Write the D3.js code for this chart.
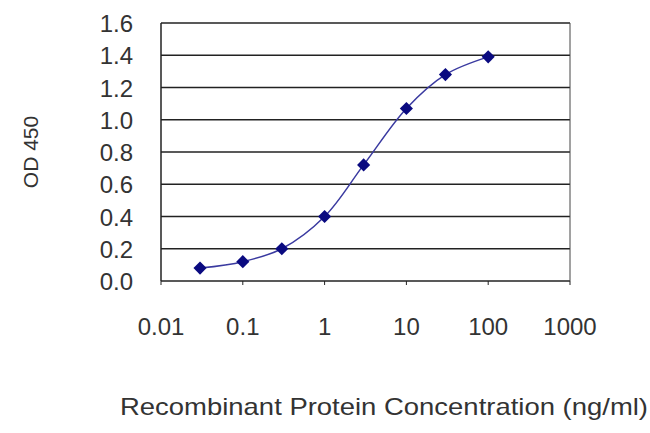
<!DOCTYPE html>
<html>
<head>
<meta charset="utf-8">
<script src="https://cdn.jsdelivr.net/npm/d3@7"></script>
<style>
  body { margin: 0; background: #fff; }
  text { font-family: "Liberation Sans", Arial, sans-serif; fill: #333; }
</style>
</head>
<body>
<div id="chart"></div>
<script>
const concentrations = [0.03, 0.1, 0.3, 1, 3, 10, 30, 100];
const odValues = [0.08, 0.12, 0.2, 0.4, 0.72, 1.07, 1.28, 1.39];
const xTicks = [0.01, 0.1, 1, 10, 100, 1000];
const xTickLabels = ['0.01', '0.1', '1', '10', '100', '1000'];
const yTicks = [0, 0.2, 0.4, 0.6, 0.8, 1.0, 1.2, 1.4, 1.6];

const WIDTH = 650;
const HEIGHT = 433;
const margin = { left: 161, right: 80, top: 23, bottom: 152 };

const svg = d3.select('#chart').append('svg')
  .attr('width', WIDTH).attr('height', HEIGHT);

const x = d3.scaleLog().domain([0.01, 1000]).range([margin.left, WIDTH - margin.right]);
const y = d3.scaleLinear().domain([0, 1.6]).range([HEIGHT - margin.bottom, margin.top]);

// grid lines
svg.append('g')
  .selectAll('line')
  .data(yTicks)
  .enter()
  .append('line')
  .attr('x1', x(0.01)).attr('x2', x(1000))
  .attr('y1', (d) => y(d)).attr('y2', (d) => y(d))
  .attr('stroke', '#222').attr('stroke-width', 1.5);

// frame
svg.append('line')
  .attr('x1', x(0.01)).attr('x2', x(0.01))
  .attr('y1', y(0)).attr('y2', y(1.6))
  .attr('stroke', '#222').attr('stroke-width', 1.5);
svg.append('line')
  .attr('x1', x(1000)).attr('x2', x(1000))
  .attr('y1', y(0)).attr('y2', y(1.6))
  .attr('stroke', '#444').attr('stroke-width', 1);

// x ticks
svg.append('g')
  .selectAll('line')
  .data(xTicks)
  .enter()
  .append('line')
  .attr('x1', (d) => x(d)).attr('x2', (d) => x(d))
  .attr('y1', y(0)).attr('y2', y(0) + 4)
  .attr('stroke', '#222');

svg.append('g')
  .selectAll('text')
  .data(xTicks)
  .enter()
  .append('text')
  .attr('x', (d) => x(d))
  .attr('y', y(0) + 54)
  .attr('text-anchor', 'middle')
  .attr('font-size', 24)
  .text((d, i) => xTickLabels[i]);

svg.append('g')
  .selectAll('text')
  .data(yTicks)
  .enter()
  .append('text')
  .attr('x', x(0.01) - 28)
  .attr('y', (d) => y(d) + 9)
  .attr('text-anchor', 'end')
  .attr('font-size', 24)
  .text((d) => d.toFixed(1));

svg.append('text')
  .attr('transform', 'translate(38,' + (y(0.8)) + ') rotate(-90)')
  .attr('text-anchor', 'middle')
  .attr('font-size', 21)
  .text('OD 450');

svg.append('text')
  .attr('x', 120)
  .attr('y', 415)
  .attr('font-size', 24)
  .attr('textLength', 528)
  .attr('lengthAdjust', 'spacingAndGlyphs')
  .text('Recombinant Protein Concentration (ng/ml)');

const points = concentrations.map((c, i) => ({ c: c, v: odValues[i] }));

svg.append('path')
  .datum(points)
  .attr('fill', 'none')
  .attr('stroke', '#3a3aa0')
  .attr('stroke-width', 1.5)
  .attr('d', d3.line().curve(d3.curveCatmullRom).x((d) => x(d.c)).y((d) => y(d.v)));

svg.append('g')
  .selectAll('path')
  .data(points)
  .enter()
  .append('path')
  .attr('d', d3.symbol().type(d3.symbolDiamond2).size(110))
  .attr('transform', (d) => 'translate(' + x(d.c) + ',' + y(d.v) + ')')
  .attr('fill', '#0a0a80');
</script>
</body>
</html>
